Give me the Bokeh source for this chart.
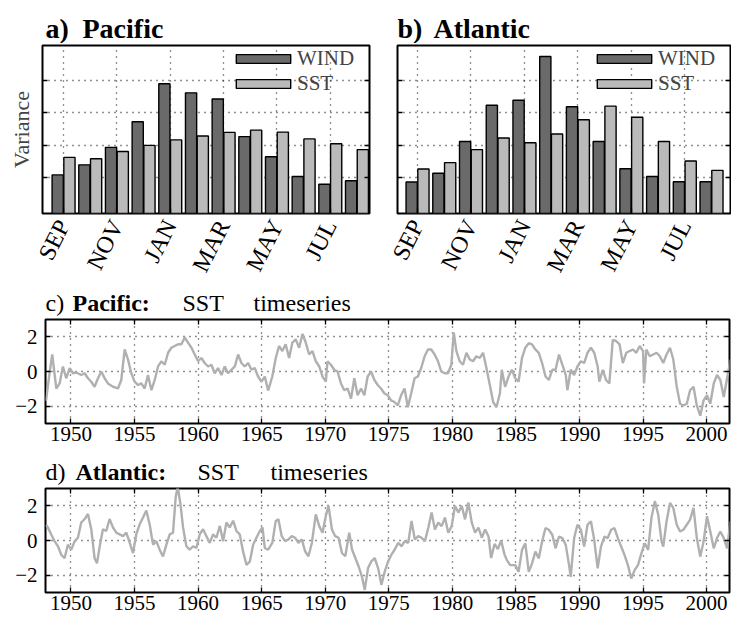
import numpy as np
from bokeh.plotting import figure
from bokeh.models import (ColumnDataSource, FixedTicker, LinearAxis, Range1d,
                          Legend, LegendItem)
from bokeh.core.properties import value
from bokeh.layouts import column, row
from bokeh.transform import dodge
from bokeh.embed import file_html
from bokeh.resources import INLINE

# ---------------- data ----------------
months = ["SEP", "OCT", "NOV", "DEC", "JAN", "FEB", "MAR", "APR", "MAY", "JUN", "JUL", "AUG"]
variance_ticks = [1, 2, 3, 4]

pac_wind = [1.08, 1.39, 1.93, 2.72, 3.89, 3.61, 3.42, 2.26, 1.64, 1.03, 0.79, 0.90]
pac_sst = [1.62, 1.58, 1.80, 1.99, 2.16, 2.28, 2.39, 2.46, 2.40, 2.19, 2.04, 1.86]
atl_wind = [0.86, 1.13, 2.11, 3.23, 3.38, 4.73, 3.18, 2.11, 1.27, 1.03, 0.87, 0.87]
atl_sst = [1.26, 1.46, 1.86, 2.22, 2.07, 2.34, 2.78, 3.20, 2.86, 2.11, 1.51, 1.22]

year_ticks = [1950, 1955, 1960, 1965, 1970, 1975, 1980, 1985, 1990, 1995, 2000]
sst_ticks = [-2, 0, 2]

pac_years = [
    1948.04, 1948.30, 1948.53, 1948.85, 1949.11, 1949.37, 1949.63, 1949.90, 1950.16, 1950.42,
    1950.81, 1951.08, 1951.34, 1951.60, 1951.86, 1952.13, 1952.39, 1952.65, 1952.91, 1953.31,
    1953.70, 1953.96, 1954.23, 1954.49, 1954.75, 1955.01, 1955.28, 1955.54, 1955.80, 1956.06,
    1956.33, 1956.59, 1956.85, 1957.11, 1957.38, 1957.64, 1957.90, 1958.16, 1958.43, 1958.69,
    1958.95, 1959.21, 1959.48, 1959.74, 1960.00, 1960.26, 1960.52, 1960.79, 1961.05, 1961.31,
    1961.57, 1961.84, 1962.10, 1962.36, 1962.62, 1962.89, 1963.15, 1963.41, 1963.67, 1963.94,
    1964.20, 1964.46, 1964.72, 1964.99, 1965.25, 1965.51, 1965.84, 1966.11, 1966.37, 1966.63,
    1966.89, 1967.16, 1967.42, 1967.68, 1967.95, 1968.21, 1968.47, 1968.74, 1969.00, 1969.26,
    1969.53, 1969.79, 1970.05, 1970.18, 1970.45, 1970.71, 1970.97, 1971.24, 1971.50, 1971.76,
    1972.03, 1972.29, 1972.55, 1972.82, 1973.08, 1973.34, 1973.61, 1973.87, 1974.13, 1974.39,
    1974.66, 1974.92, 1975.18, 1975.45, 1975.71, 1975.97, 1976.24, 1976.50, 1976.76, 1977.03,
    1977.29, 1977.55, 1977.82, 1978.08, 1978.34, 1978.61, 1978.87, 1979.13, 1979.39, 1979.66,
    1979.92, 1980.11, 1980.32, 1980.58, 1980.84, 1981.11, 1981.37, 1981.63, 1981.89, 1982.16,
    1982.42, 1982.68, 1982.95, 1983.21, 1983.47, 1983.74, 1983.89, 1984.15, 1984.42, 1984.68,
    1984.95, 1985.21, 1985.48, 1985.74, 1986.01, 1986.27, 1986.53, 1986.80, 1987.06, 1987.33,
    1987.59, 1987.86, 1988.12, 1988.39, 1988.65, 1988.92, 1989.05, 1989.31, 1989.58, 1989.84,
    1990.11, 1990.37, 1990.63, 1990.90, 1991.16, 1991.43, 1991.56, 1991.83, 1992.09, 1992.35,
    1992.62, 1992.88, 1993.15, 1993.41, 1993.68, 1993.94, 1994.21, 1994.47, 1994.74, 1995.00,
    1995.08, 1995.26, 1995.53, 1995.79, 1996.06, 1996.32, 1996.59, 1996.85, 1997.12, 1997.38,
    1997.65, 1997.91, 1998.17, 1998.44, 1998.70, 1998.97, 1999.23, 1999.50, 1999.76, 2000.03,
    2000.29, 2000.56, 2000.82, 2001.08, 2001.35, 2001.61, 2001.88,
]
pac_anom = [
    -1.70, -0.20, 0.98, -0.98, -0.69, 0.29, -0.39, 0.20, -0.10, -0.06,
    -0.20, -0.10, -0.39, -0.59, -0.88, -0.39, 0.00, -0.39, -0.69, -0.88,
    -0.98, -0.49, 1.27, 0.69, -0.10, -0.59, -0.78, -0.69, -0.98, -0.20,
    -1.08, -0.49, 0.29, 0.59, 0.39, 1.08, 1.37, 1.47, 1.57, 1.57,
    1.96, 1.67, 1.37, 0.98, 0.59, 0.78, 0.49, 0.29, 0.39, -0.10,
    0.20, -0.20, 0.29, -0.10, 0.10, 0.29, 0.98, 0.49, 0.29, 0.49,
    0.10, 0.20, -0.29, -0.59, -0.29, -1.10, -0.29, 0.78, 1.47, 1.18,
    1.57, 0.78, 1.67, 1.86, 1.37, 2.16, 1.67, 0.98, 1.18, 0.59,
    0.29, -0.29, -0.59, 0.59, 0.39, 0.10, 0.00, -0.69, -1.08, -0.98,
    -1.57, -0.39, -1.37, -0.98, -1.37, -0.29, 0.00, -0.49, -0.78, -0.98,
    -1.27, -1.37, -1.67, -1.76, -1.96, -1.37, -0.98, -2.06, -1.27, -0.39,
    -0.29, 0.20, 0.88, 1.27, 1.27, 0.98, 0.59, 0.00, -0.10, -0.10,
    0.39, 2.25, 1.18, 0.59, 0.39, 1.08, 0.69, 0.59, 0.88, 0.78,
    1.08, 0.20, -0.78, -1.76, -2.06, -1.27, 0.10, -0.88, -0.29, 0.10,
    -0.39, -0.59, 0.78, 1.37, 1.63, 1.57, 1.27, 1.08, 0.49, -0.29,
    -0.49, 0.10, 0.10, 0.98, 0.39, -0.20, -1.08, 0.10, -0.20, 0.29,
    0.59, 0.49, 1.08, 1.37, 1.08, 0.29, -0.59, 0.10, -0.49, -0.69,
    1.82, 1.76, 1.57, 0.49, 1.08, 1.18, 1.27, 1.08, 1.47, 1.18,
    -0.69, 1.27, 0.88, 0.98, 1.08, 0.88, 0.49, 0.98, 1.37, 0.69,
    -0.88, -1.86, -1.96, -1.86, -1.08, -0.88, -1.96, -2.55, -1.67, -1.37,
    -1.86, -0.69, -0.20, -0.49, -1.47, -0.39, 0.69,
]

atl_years = [
    1948.05, 1948.19, 1948.45, 1948.71, 1948.98, 1949.24, 1949.50, 1949.76, 1950.03, 1950.29,
    1950.55, 1950.81, 1951.08, 1951.34, 1951.60, 1951.86, 1952.05, 1952.31, 1952.52, 1952.78,
    1953.04, 1953.31, 1953.57, 1953.83, 1954.09, 1954.36, 1954.67, 1954.88, 1955.14, 1955.41,
    1955.67, 1955.93, 1956.19, 1956.46, 1956.72, 1956.98, 1957.24, 1957.51, 1957.77, 1958.03,
    1958.24, 1958.40, 1958.61, 1958.82, 1959.08, 1959.34, 1959.61, 1959.87, 1960.13, 1960.39,
    1960.66, 1960.92, 1961.18, 1961.44, 1961.71, 1961.97, 1962.23, 1962.49, 1962.76, 1963.02,
    1963.28, 1963.54, 1963.81, 1964.07, 1964.33, 1964.59, 1964.86, 1965.07, 1965.25, 1965.51,
    1965.84, 1966.11, 1966.32, 1966.58, 1966.84, 1967.11, 1967.37, 1967.63, 1967.89, 1968.16,
    1968.42, 1968.68, 1968.95, 1969.26, 1969.53, 1969.79, 1970.05, 1970.26, 1970.53, 1970.79,
    1971.05, 1971.32, 1971.58, 1971.89, 1972.11, 1972.37, 1972.63, 1972.89, 1973.11, 1973.37,
    1973.63, 1973.89, 1974.16, 1974.42, 1974.68, 1974.95, 1975.21, 1975.47, 1975.74, 1976.00,
    1976.26, 1976.53, 1976.79, 1977.05, 1977.32, 1977.58, 1977.84, 1978.11, 1978.37, 1978.63,
    1978.89, 1979.16, 1979.42, 1979.68, 1979.95, 1980.21, 1980.47, 1980.74, 1981.00, 1981.26,
    1981.53, 1981.79, 1982.05, 1982.32, 1982.58, 1982.84, 1983.05, 1983.32, 1983.58, 1983.84,
    1984.10, 1984.29, 1984.55, 1984.95, 1985.21, 1985.48, 1985.74, 1986.01, 1986.27, 1986.53,
    1986.80, 1987.06, 1987.33, 1987.59, 1987.86, 1988.12, 1988.39, 1988.65, 1988.92, 1989.18,
    1989.31, 1989.58, 1989.84, 1990.11, 1990.37, 1990.63, 1990.90, 1991.16, 1991.43, 1991.69,
    1991.96, 1992.22, 1992.49, 1992.75, 1993.02, 1993.28, 1993.54, 1993.81, 1994.07, 1994.34,
    1994.60, 1994.87, 1995.13, 1995.40, 1995.66, 1995.93, 1996.19, 1996.46, 1996.59, 1996.85,
    1997.12, 1997.38, 1997.65, 1997.91, 1998.17, 1998.44, 1998.70, 1998.97, 1999.23, 1999.50,
    1999.76, 2000.03, 2000.29, 2000.56, 2000.82, 2001.08, 2001.35, 2001.61, 2001.88,
]
atl_anom = [
    0.90, 0.75, 0.35, -0.04, -0.33, -0.82, -1.02, -0.24, -0.53, -0.04,
    0.16, 1.04, 1.24, 1.53, 0.65, -1.02, -1.31, -0.14, 0.65, 0.55,
    1.24, 0.75, 0.45, 0.35, 0.25, 0.45, -0.24, -0.73, 0.35, 0.94,
    1.33, 1.73, 0.94, -0.24, -0.04, -0.53, -0.92, -0.24, 0.35, 0.45,
    2.51, 3.10, 2.12, 0.75, -0.33, -0.53, -0.33, -0.43, 0.35, 0.65,
    0.25, -0.14, 0.35, 0.16, 0.84, -0.04, 1.04, 0.75, 1.14, 0.55,
    0.35, -0.63, -1.41, -1.22, -0.24, 0.16, 0.55, 0.75, -0.43, -0.53,
    -0.14, 1.13, 1.22, 0.25, -0.04, 0.06, 0.25, 0.16, -0.14, 0.06,
    -0.62, -0.91, -0.14, 1.51, 0.83, 0.45, 1.42, 2.00, 0.64, 0.25,
    0.16, -0.72, -0.91, 0.45, -0.52, -1.01, -1.50, -2.08, -2.85, -1.59,
    -1.20, -1.01, -1.59, -2.56, -1.79, -1.20, -0.82, -0.52, -0.14, -0.33,
    -0.04, -0.14, 1.13, 0.06, 0.25, 0.16, -0.04, 0.74, 1.61, 0.64,
    1.03, 0.83, 1.32, 0.45, 0.83, 2.00, 1.61, 2.00, 1.22, 2.19,
    1.03, 0.45, 0.74, 0.16, 0.64, 0.25, -1.01, -0.20, -0.50, 0.00,
    -0.80, -1.13, -1.42, -1.42, -1.81, -0.54, -0.16, -1.81, -1.32, -0.64,
    -1.03, -0.06, 0.72, 0.62, 0.33, -0.45, 0.23, 0.14, -0.25, -1.42,
    -2.10, 0.14, 0.91, 0.62, -0.35, 0.91, 1.11, 0.04, -1.61, -0.35,
    0.23, 0.14, 0.62, 0.72, 0.14, -0.35, -0.83, -1.42, -2.19, -1.71,
    -1.42, -0.74, -0.16, -0.54, 1.30, 2.27, 1.50, -0.06, -0.35, 1.11,
    2.17, 1.88, 0.91, 0.52, 0.62, 0.91, 1.20, 1.88, 0.14, -0.93,
    -0.06, 1.40, 0.52, -0.45, 0.14, 0.52, 0.14, -0.45, 1.11,
]

# ---------------- styling ----------------
FONT = "Liberation Serif"
WIND_C = "#6a6a6a"
SST_C = "#bababa"
LINE_C = "#b0b0b0"
GRID_DASH = "1 5"
YLO, YHI = -0.11, 5.07
TOTAL_W = 731
TS_LEFT, TS_RIGHT = 45, 2


def style_common(p):
    p.outline_line_color = "black"
    p.outline_line_width = 2
    p.background_fill_color = "white"
    p.border_fill_color = "white"
    for ax in p.axis:
        ax.axis_line_color = None
        ax.major_tick_in = 5
        ax.major_tick_out = 0
        ax.major_tick_line_color = "black"
        ax.major_tick_line_width = 1.3
        ax.minor_tick_line_color = None
        ax.major_label_text_font = FONT
        ax.major_label_text_color = "black"
    for g in (p.xgrid, p.ygrid):
        g.grid_line_color = "#222222"
        g.grid_line_dash = GRID_DASH
        g.grid_line_width = 1.3


def extra_axis(p, side, ticks):
    ax = LinearAxis(ticker=FixedTicker(ticks=ticks),
                    major_label_overrides={t: "" for t in ticks},
                    major_label_standoff=0, axis_line_color=None, major_tick_in=5,
                    major_tick_out=0, minor_tick_line_color=None,
                    major_tick_line_color="black", major_tick_line_width=1.3)
    p.add_layout(ax, side)


def title_strip(height, entries, size, yc):
    """Heading strip: its frame is aligned with the time-series frames, so that
    x is the page x in pixels; yc is the text's vertical centre above the strip bottom."""
    s = figure(width=TOTAL_W, height=height, x_axis_type=None, y_axis_type=None,
               x_range=Range1d(TS_LEFT, TOTAL_W - TS_RIGHT), y_range=Range1d(0, height),
               output_backend="svg", toolbar_location=None, title=None,
               min_border_left=TS_LEFT, min_border_right=TS_RIGHT,
               min_border_top=0, min_border_bottom=0)
    s.outline_line_color = None
    s.background_fill_color = "white"
    s.border_fill_color = "white"
    s.xgrid.visible = False
    s.ygrid.visible = False
    for style in ("normal", "bold"):
        sel = [e for e in entries if e[2] == style]
        if not sel:
            continue
        s.text(x=[e[0] for e in sel], y=[yc] * len(sel), text=[e[1] for e in sel],
               text_font=value(FONT), text_font_size=value(size),
               text_font_style=value(style), text_baseline="middle",
               text_align="left", text_color="black")
    return s


BAR_H, BAR_TOP, BAR_BOT = 242, 2, 66
BAR_FRAME_H = BAR_H - BAR_TOP - BAR_BOT


def bar_panel(wind, sst, xr, width, left, right, ylabel=None):
    p = figure(width=width, height=BAR_H, x_range=Range1d(*xr), y_range=Range1d(YLO, YHI),
               output_backend="svg", toolbar_location=None,
               min_border_left=left, min_border_right=right,
               min_border_top=BAR_TOP, min_border_bottom=BAR_BOT)
    src = ColumnDataSource(dict(x=list(range(1, len(months) + 1)), wind=wind, sst=sst))
    r1 = p.vbar(x=dodge("x", -0.22, range=p.x_range), top="wind", bottom=YLO, width=0.42,
                fill_color=WIND_C, line_color="black", line_width=1.4, source=src)
    r2 = p.vbar(x=dodge("x", 0.22, range=p.x_range), top="sst", bottom=YLO, width=0.42,
                fill_color=SST_C, line_color="black", line_width=1.4, source=src)
    label_ticks = [i + 1 for i in range(0, len(months), 2)]
    p.xaxis.ticker = FixedTicker(ticks=label_ticks)
    p.xaxis.major_label_overrides = {i + 1: months[i] for i in range(0, len(months), 2)}
    p.xaxis.major_label_orientation = 1.1
    p.xaxis.major_label_text_font_size = "24px"
    p.xaxis.major_label_standoff = 8
    p.yaxis.ticker = FixedTicker(ticks=variance_ticks)
    p.yaxis.major_label_overrides = {t: "" for t in variance_ticks}
    p.yaxis.major_label_standoff = 0
    if ylabel:
        p.yaxis.axis_label = ylabel
        p.yaxis.axis_label_text_font = FONT
        p.yaxis.axis_label_text_font_size = "22px"
        p.yaxis.axis_label_text_font_style = "normal"
        p.yaxis.axis_label_standoff = 9
    extra_axis(p, "right", variance_ticks)
    style_common(p)
    fw = width - left - right
    legend = Legend(items=[LegendItem(label="WIND", renderers=[r1]),
                           LegendItem(label="SST", renderers=[r2])],
                    location=(fw - 140, BAR_FRAME_H - 57),
                    glyph_width=68, glyph_height=11, label_standoff=0, spacing=0,
                    padding=0, margin=0, border_line_color=None,
                    background_fill_alpha=0, label_text_font=FONT,
                    label_text_font_size="21px", label_height=21)
    p.add_layout(legend)
    return p


def ts_panel(t, v, height, top, bottom):
    p = figure(width=TOTAL_W, height=height, x_range=Range1d(1948.0, 2001.8),
               y_range=Range1d(-3, 3), output_backend="svg", toolbar_location=None,
               min_border_left=TS_LEFT, min_border_right=TS_RIGHT,
               min_border_top=top, min_border_bottom=bottom)
    p.line(t, v, line_color=LINE_C, line_width=2.4)
    p.xaxis.ticker = FixedTicker(ticks=year_ticks)
    p.xaxis.major_label_text_font_size = "21px"
    p.xaxis.major_label_standoff = 3
    p.yaxis.ticker = FixedTicker(ticks=sst_ticks)
    p.yaxis.major_label_overrides = {-2: "\u22122", 0: "0", 2: "2"}
    p.yaxis.major_label_text_font_size = "21px"
    p.yaxis.major_label_standoff = 8
    extra_axis(p, "right", sst_ticks)
    extra_axis(p, "above", year_ticks)
    style_common(p)
    return p


strip_ab = title_strip(43, [(45, "a)", "bold"), (82, "Pacific", "bold"),
                            (397, "b)", "bold"), (433, "Atlantic", "bold")], "28px", 15.5)
pa = bar_panel(pac_wind, pac_sst, (0.21, 12.47), 379, 42, 10, ylabel="Variance")
pb = bar_panel(atl_wind, atl_sst, (0.25, 12.71), 352, 18, 1)
strip_c = title_strip(31, [(45, "c)", "normal"), (72, "Pacific:", "bold"),
                           (182, "SST", "normal"), (253, "timeseries", "normal")], "24px", 13.5)
pc = ts_panel(pac_years, pac_anom, 136, 3, 29)
strip_d = title_strip(33, [(45, "d)", "normal"), (75, "Atlantic:", "bold"),
                           (197, "SST", "normal"), (270, "timeseries", "normal")], "24px", 14)
pd = ts_panel(atl_years, atl_anom, 135, 3, 28)

layout = column(strip_ab, row(pa, pb), strip_c, pc, strip_d, pd)
open("out.html", "w").write(file_html(layout, INLINE))
